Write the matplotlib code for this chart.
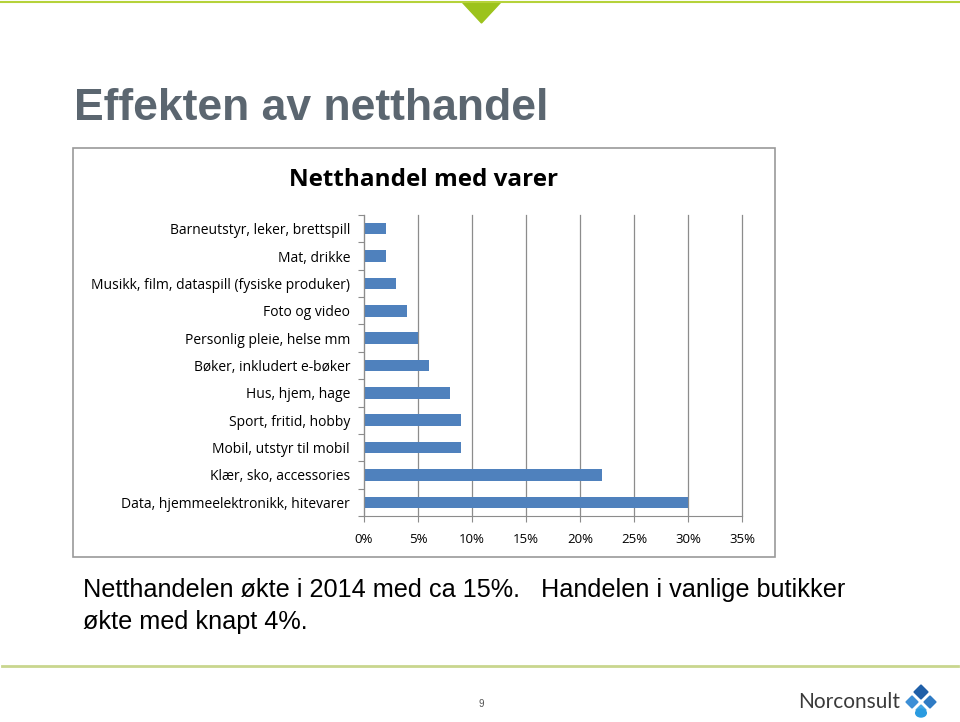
import matplotlib.pyplot as plt
from matplotlib.patches import Rectangle, Polygon, Circle
from matplotlib.ticker import FuncFormatter
import numpy as np

categories = ["Barneutstyr, leker, brettspill", "Mat, drikke",
              "Musikk, film, dataspill (fysiske produker)", "Foto og video",
              "Personlig pleie, helse mm", "Bøker, inkludert e-bøker",
              "Hus, hjem, hage", "Sport, fritid, hobby",
              "Mobil, utstyr til mobil", "Klær, sko, accessories",
              "Data, hjemmeelektronikk, hitevarer"]
values = [2, 2, 3, 4, 5, 6, 8, 9, 9, 22, 30]
xticks = [0, 5, 10, 15, 20, 25, 30, 35]

W, H = 960, 722
fig = plt.figure(figsize=(9.6, 7.22), dpi=100)
fig.patch.set_facecolor("white")

def fx(px):
    return px / W

def fy(py):
    return 1 - py / H

# top green line and triangle
fig.add_artist(plt.Line2D([0, 1], [fy(1.5), fy(1.5)], color="#b5d23a", lw=1.5))
fig.add_artist(Polygon([[fx(462), fy(2)], [fx(501), fy(2)], [fx(481.5), fy(23)]],
                       closed=True, color="#9cc31c", transform=fig.transFigure))

# slide title
fig.text(fx(74), fy(108), "Effekten av netthandel", fontsize=32, fontweight="bold",
         color="#5b6670", family="Liberation Sans", va="center", ha="left")

# chart frame
fig.add_artist(Rectangle((fx(73), fy(557)), fx(775) - fx(73), fy(148) - fy(557),
                         transform=fig.transFigure, fill=False, ec="#9a9a9a", lw=1.2))
fig.text(fx(424), fy(180), "Netthandel med varer", fontsize=17.5, fontweight="bold",
         family="Open Sans", color="black", ha="center", va="center")

ax = fig.add_axes([fx(364), fy(516), fx(742) - fx(364), fy(215) - fy(516)])
y = np.arange(len(categories))
ax.barh(y, values, height=0.42, color="#4f81bd")
ax.set_ylim(len(categories) - 0.5, -0.5)
ax.set_xlim(0, 35)
ax.set_xticks(xticks)
ax.xaxis.set_major_formatter(FuncFormatter(lambda v, p: f"{int(v)}%"))
ax.set_yticks(np.arange(len(categories) + 1) - 0.5, minor=False)
ax.set_yticklabels([])
ax.set_yticks(y, minor=True)
ax.set_yticklabels(categories, minor=True)
ax.tick_params(axis="y", which="minor", length=0, pad=10, labelsize=10)
ax.tick_params(axis="y", which="major", length=4, color="#8c8c8c")
ax.tick_params(axis="x", length=4, color="#8c8c8c", labelsize=9.5, pad=8)
for lab in ax.get_yticklabels(minor=True) + ax.get_xticklabels():
    lab.set_family("Open Sans")
ax.grid(axis="x", color="#8c8c8c", lw=0.9)
for gl in ax.get_xgridlines():
    gl.set_clip_on(False)
ax.set_axisbelow(True)
for s in ["top", "right"]:
    ax.spines[s].set_visible(False)
for s in ["left", "bottom"]:
    ax.spines[s].set_color("#8c8c8c")

# text under chart
fig.text(fx(83), fy(590), "Netthandelen økte i 2014 med ca 15%.   Handelen i vanlige butikker",
         fontsize=18.2, family="Liberation Sans", color="black", va="center", ha="left")
fig.text(fx(83), fy(622), "økte med knapt 4%.",
         fontsize=18.2, family="Liberation Sans", color="black", va="center", ha="left")

# footer
fig.add_artist(plt.Line2D([fx(2), fx(958)], [fy(666), fy(666)], color="#c9d68e", lw=2))
fig.text(fx(481), fy(704), "9", fontsize=7, color="#555555", ha="center", va="center",
         family="Liberation Sans")
fig.text(fx(798), fy(702), "Norconsult", fontsize=15, color="#3a3a3a", ha="left",
         va="center", family="Lato")

def diamond(cx, cy, r, color):
    fig.add_artist(Polygon([[fx(cx), fy(cy - r)], [fx(cx + r), fy(cy)],
                            [fx(cx), fy(cy + r)], [fx(cx - r), fy(cy)]],
                           closed=True, color=color, transform=fig.transFigure))

diamond(921, 692, 7, "#1f5fa8")
diamond(912, 702, 6, "#3d8fd6")
diamond(930, 702, 6, "#2f7bc4")
diamond(921, 710, 5, "#45a6e3")
fig.add_artist(Circle((fx(921), fy(713)), 4 / H, color="#2a9be0", transform=fig.transFigure))

fig.savefig("out.png", dpi=100)
